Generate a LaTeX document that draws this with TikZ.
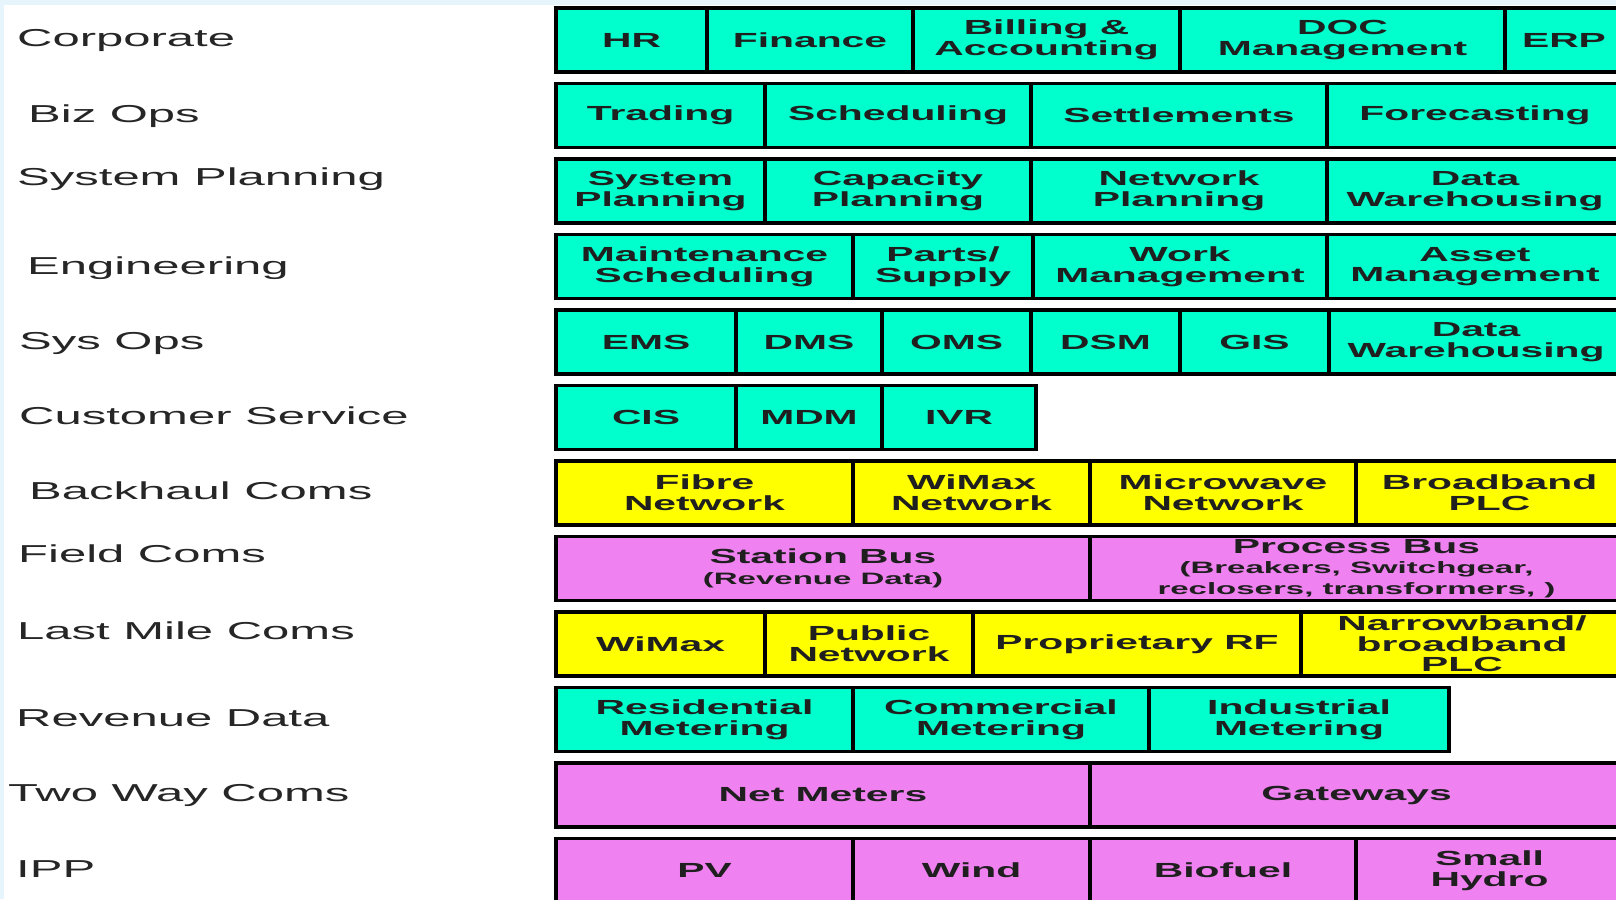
\documentclass[tikz,border=0pt]{standalone}
\usepackage{fontspec}
\newfontfamily\labelface{Liberation Sans}[FakeStretch=2.0]
\newfontfamily\boxface{Liberation Sans}[FakeStretch=2.0]
\newcommand\labelfont{\labelface\fontsize{24.5}{26}\selectfont}
\newcommand\boxfont{\boxface\bfseries\fontsize{20.4}{20.6}\selectfont}
\newcommand\subfont{\boxface\bfseries\fontsize{16.5}{20.6}\selectfont}
\definecolor{tealcol}{HTML}{00FFCC}
\definecolor{yellowcol}{HTML}{FFFF00}
\definecolor{pinkcol}{HTML}{F081F0}
\definecolor{framecol}{HTML}{E5F5FB}
\tikzset{
  cell/.style={draw=black, line width=3.5pt, minimum width=#1, minimum height=64,
    anchor=north west, inner sep=0pt, outer sep=0pt, align=center,
    font=\boxfont, text=black!88},
  tc/.style={fill=tealcol},
  yc/.style={fill=yellowcol},
  pc/.style={fill=pinkcol},
  lbl/.style={anchor=base west, inner sep=0pt, font=\labelfont, text=black!85}
}
\begin{document}
\begin{tikzpicture}[x=1pt,y=-1pt]
\clip (0,0) rectangle (1616,899);
\fill[white] (0,0) rectangle (1616,899);
% light frame along the top and left edges
\fill[framecol] (0,0) rectangle (1616,5);
\fill[framecol] (0,0) rectangle (4,899);

% layer labels
\node[lbl] (lcorp) at (17,47) {Corporate};
\node[lbl] (lbiz) at (28,122) {Biz Ops};
\node[lbl] (lsysp) at (17,185) {System Planning};
\node[lbl] (leng) at (27,274) {Engineering};
\node[lbl] (lsysops) at (19,349) {Sys Ops};
\node[lbl] (lcust) at (19,424) {Customer Service};
\node[lbl] (lback) at (29,499) {Backhaul Coms};
\node[lbl] (lfield) at (18,562) {Field Coms};
\node[lbl] (llast) at (17,639) {Last Mile Coms};
\node[lbl] (lrev) at (16,726) {Revenue Data};
\node[lbl] (ltwo) at (8,801) {Two Way Coms};
\node[lbl] (lipp) at (16,877) {IPP};

% Corporate
\node[cell=151,tc] (hr) at (556,8) {HR};
\node[cell=206,tc] (fin) at (707,8) {Finance};
\node[cell=267,tc] (bill) at (913,8) {Billing \&\\Accounting};
\node[cell=325,tc] (doc) at (1180,8) {DOC\\Management};
\node[cell=118,tc] (erp) at (1505,8) {ERP};

% Biz Ops
\node[cell=209,tc] (trad) at (556,83.5) {Trading};
\node[cell=266,tc] (sched) at (765,83.5) {Scheduling};
\node[cell=296,tc] (settle) at (1031,83.5) {Settlements};
\node[cell=296,tc] (fore) at (1327,83.5) {Forecasting};

% System Planning
\node[cell=209,tc] (sysp) at (556,159) {System\\Planning};
\node[cell=266,tc] (capp) at (765,159) {Capacity\\Planning};
\node[cell=296,tc] (netp) at (1031,159) {Network\\Planning};
\node[cell=296,tc] (dw1) at (1327,159) {Data\\Warehousing};

% Engineering
\node[cell=297,tc] (maint) at (556,234.5) {Maintenance\\Scheduling};
\node[cell=180,tc] (parts) at (853,234.5) {Parts/\\Supply};
\node[cell=294,tc] (work) at (1033,234.5) {Work\\Management};
\node[cell=296,tc] (asset) at (1327,234.5) {Asset\\Management};

% Sys Ops
\node[cell=180,tc] (ems) at (556,310) {EMS};
\node[cell=146,tc] (dms) at (736,310) {DMS};
\node[cell=149,tc] (oms) at (882,310) {OMS};
\node[cell=149,tc] (dsm) at (1031,310) {DSM};
\node[cell=149,tc] (gis) at (1180,310) {GIS};
\node[cell=294,tc] (dw2) at (1329,310) {Data\\Warehousing};

% Customer Service
\node[cell=180,tc] (cis) at (556,385.5) {CIS};
\node[cell=146,tc] (mdm) at (736,385.5) {MDM};
\node[cell=154,tc] (ivr) at (882,385.5) {IVR};

% Backhaul Coms
\node[cell=297,yc] (fibre) at (556,461) {Fibre\\Network};
\node[cell=237,yc] (wimaxn) at (853,461) {WiMax\\Network};
\node[cell=266,yc] (micro) at (1090,461) {Microwave\\Network};
\node[cell=267,yc] (bplc) at (1356,461) {Broadband\\PLC};

% Field Coms
\node[cell=534,pc] (station) at (556,536.5) {Station Bus\\\subfont(Revenue Data)};
\node[cell=533,pc] (process) at (1090,536.5) {Process Bus\\\subfont(Breakers, Switchgear,\\\subfont reclosers, transformers, )};

% Last Mile Coms
\node[cell=209,yc] (wimax) at (556,612) {WiMax};
\node[cell=208,yc] (public) at (765,612) {Public\\Network};
\node[cell=328,yc] (prop) at (973,612) {Proprietary RF};
\node[cell=322,yc] (narrow) at (1301,612) {Narrowband/\\broadband\\PLC};

% Revenue Data
\node[cell=297,tc] (resid) at (556,687.5) {Residential\\Metering};
\node[cell=296,tc] (comm) at (853,687.5) {Commercial\\Metering};
\node[cell=300,tc] (indus) at (1149,687.5) {Industrial\\Metering};

% Two Way Coms
\node[cell=534,pc] (netm) at (556,763) {Net Meters};
\node[cell=533,pc] (gate) at (1090,763) {Gateways};

% IPP
\node[cell=297,pc] (pv) at (556,838.5) {PV};
\node[cell=237,pc] (wind) at (853,838.5) {Wind};
\node[cell=266,pc] (bio) at (1090,838.5) {Biofuel};
\node[cell=267,pc] (hydro) at (1356,838.5) {Small\\Hydro};
\end{tikzpicture}
\end{document}
